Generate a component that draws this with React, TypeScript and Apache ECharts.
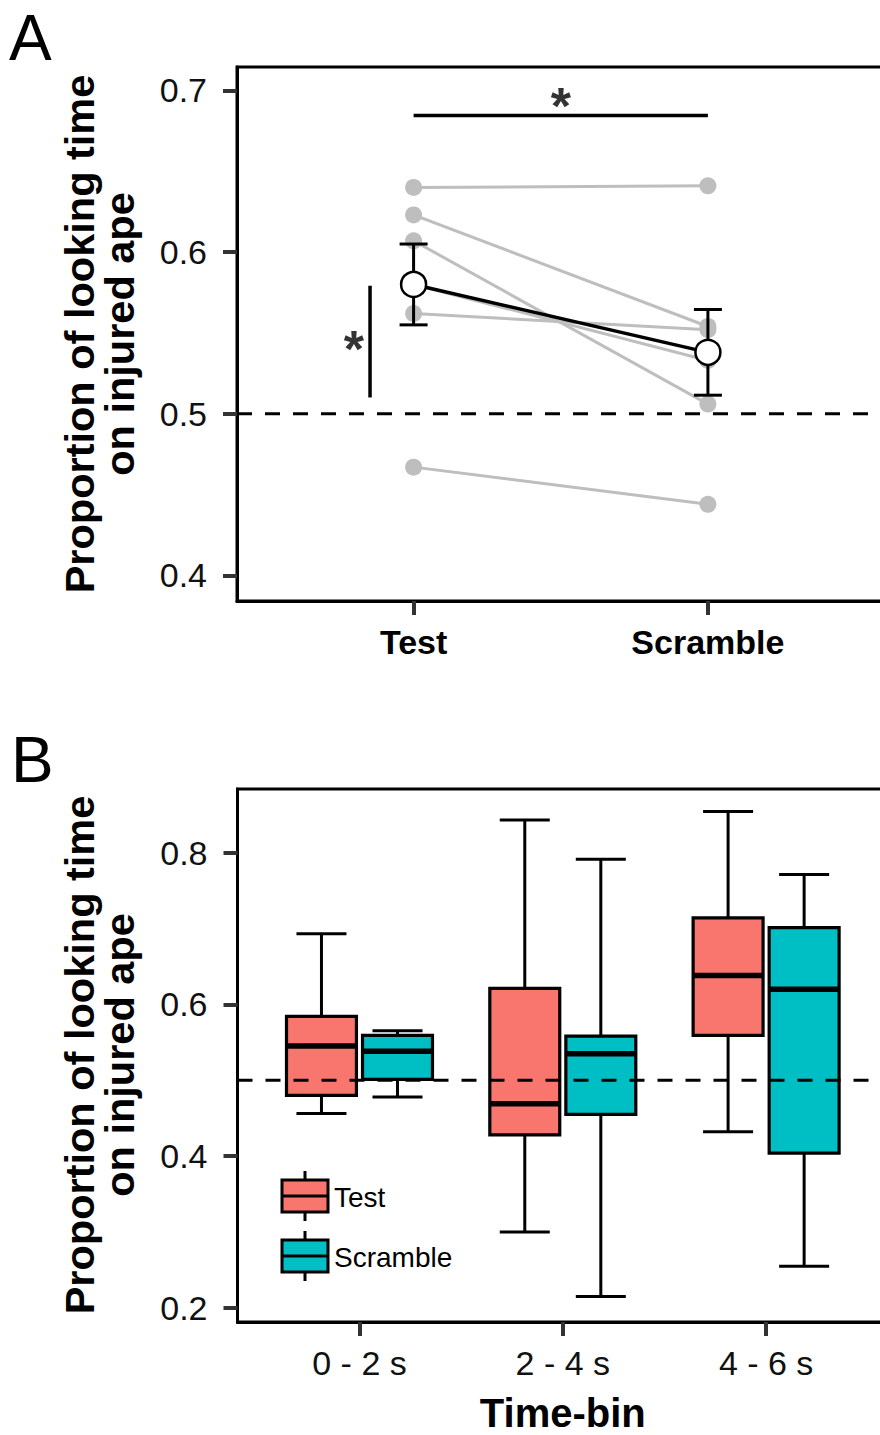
import React, { useEffect, useRef } from "react";
import * as echarts from "echarts";

const FONT = "'Liberation Sans', Arial, Helvetica, sans-serif";

// ---- Panel A: proportion of looking time per subject and condition ----
const CONDITIONS = ["Test", "Scramble"];
const SUBJECT_TEST = [0.64, 0.623, 0.607, 0.58, 0.562, 0.467];
const SUBJECT_SCRAMBLE = [0.641, 0.554, 0.506, 0.533, 0.552, 0.444];
const GROUP_MEAN = [0.58, 0.538];
const GROUP_SE = [0.025, 0.0265];
const Y_TICKS_A = [0.4, 0.5, 0.6, 0.7];
// significance annotations: [x1, y1, x2, y2] in data units, and star positions [x, y]
const SIG_LINES = [
  [1, 0.6845, 2, 0.6845],
  [0.852, 0.5792, 0.852, 0.5101],
];
const SIG_STARS = [
  [1.5, 0.6968],
  [0.797, 0.5463],
];

// ---- Panel B: distribution per time-bin, [low whisker, Q1, median, Q3, high whisker] ----
const TIME_BINS = ["0 - 2 s", "2 - 4 s", "4 - 6 s"];
const TEST_BOX = [
  [0.456, 0.48, 0.545, 0.584, 0.693],
  [0.3, 0.428, 0.469, 0.621, 0.843],
  [0.432, 0.559, 0.638, 0.714, 0.854],
];
const SCRAMBLE_BOX = [
  [0.478, 0.501, 0.538, 0.559, 0.565],
  [0.215, 0.455, 0.535, 0.558, 0.791],
  [0.255, 0.404, 0.62, 0.701, 0.771],
];
const Y_TICKS_B = [0.2, 0.4, 0.6, 0.8];
const CHANCE = 0.5;

const TEST_COLOR = "#F8766D";
const SCRAMBLE_COLOR = "#00BFC4";
const GREY = "#BEBEBE";

// widths in x-axis units for the dodged boxes
const DODGE = 0.187;
const BOX_WIDTH = 0.344;
const CAP_WIDTH = 0.246;

const seg = (x1: number, y1: number, x2: number, y2: number, w: number) => ({
  type: "line",
  shape: { x1, y1, x2, y2 },
  style: { stroke: "#000", lineWidth: w },
});

function boxSeries(name: string, stats: number[][], offset: number, color: string) {
  return {
    type: "custom",
    name,
    xAxisIndex: 1,
    yAxisIndex: 1,
    z: 3,
    data: stats.map((s, i) => [i + 1, ...s]),
    encode: { x: 0, y: [1, 2, 3, 4, 5] },
    renderItem: (_params: any, api: any) => {
      const x = api.value(0) + offset;
      const lo = api.coord([x, api.value(1)]);
      const q1 = api.coord([x, api.value(2)]);
      const md = api.coord([x, api.value(3)]);
      const q3 = api.coord([x, api.value(4)]);
      const hi = api.coord([x, api.value(5)]);
      const bw = api.size([BOX_WIDTH, 0])[0];
      const cw = api.size([CAP_WIDTH, 0])[0];
      const cx = q1[0];
      return {
        type: "group",
        children: [
          seg(cx, hi[1], cx, lo[1], 3),
          seg(cx - cw / 2, hi[1], cx + cw / 2, hi[1], 3),
          seg(cx - cw / 2, lo[1], cx + cw / 2, lo[1], 3),
          {
            type: "rect",
            shape: { x: cx - bw / 2, y: q3[1], width: bw, height: q1[1] - q3[1] },
            style: { fill: color, stroke: "#000", lineWidth: 3.2 },
          },
          seg(cx - bw / 2, md[1], cx + bw / 2, md[1], 5.5),
        ],
      };
    },
  };
}

function legendKey(y: number, color: string, label: string) {
  const x = 282;
  const w = 46;
  const h = 32;
  return {
    type: "group",
    children: [
      seg(x + w / 2, y - 9, x + w / 2, y + h + 9, 3),
      {
        type: "rect",
        shape: { x, y, width: w, height: h },
        style: { fill: color, stroke: "#000", lineWidth: 3 },
      },
      seg(x, y + h / 2, x + w, y + h / 2, 3),
      {
        type: "text",
        x: x + w + 6,
        y: y + h / 2 + 1,
        style: {
          text: label,
          font: `28px ${FONT}`,
          fill: "#000",
          align: "left",
          verticalAlign: "middle",
        },
      },
    ],
  };
}

const yTitle = (cy: number) => ({
  type: "text",
  x: 99,
  y: cy,
  rotation: Math.PI / 2,
  style: {
    text: "Proportion of looking time\non injured ape",
    font: `bold 41.5px ${FONT}`,
    lineHeight: 40,
    fill: "#000",
    align: "center",
    verticalAlign: "middle",
  },
});

const axisCommon = {
  axisLine: { show: true, lineStyle: { color: "#000", width: 3 } },
  axisTick: { show: true, length: 14, lineStyle: { color: "#333", width: 4 } },
  splitLine: { show: false },
};

const gridCommon = {
  show: true,
  borderColor: "#000",
  borderWidth: 3,
  backgroundColor: "transparent",
  containLabel: false,
  outerBoundsMode: "none",
};

export default function App() {
  const ref = useRef<HTMLDivElement>(null);

  useEffect(() => {
    if (!ref.current) return;
    const chart = echarts.init(ref.current, null, { renderer: "svg" });

    const subjectSeries = SUBJECT_TEST.map((t, i) => ({
      type: "line",
      xAxisIndex: 0,
      yAxisIndex: 0,
      z: 2,
      data: [
        [1, t],
        [2, SUBJECT_SCRAMBLE[i]],
      ],
      symbol: "circle",
      symbolSize: 17,
      itemStyle: { color: GREY },
      lineStyle: { color: GREY, width: 3 },
      silent: true,
    }));

    const option: any = {
      animation: false,
      backgroundColor: "#fff",
      textStyle: { fontFamily: FONT },
      grid: [
        { ...gridCommon, left: 237, top: 67, width: 647.5, height: 534 },
        { ...gridCommon, left: 237.5, top: 789, width: 650.6, height: 533 },
      ],
      xAxis: [
        {
          type: "value",
          gridIndex: 0,
          min: 0.4,
          max: 2.6,
          ...axisCommon,
          axisTick: { ...axisCommon.axisTick, customValues: [1, 2] },
          axisLabel: {
            customValues: [1, 2],
            formatter: (v: number) => CONDITIONS[Math.round(v) - 1],
            fontSize: 34,
            fontWeight: "bold",
            color: "#000",
            margin: 24,
            lineHeight: 34,
          },
        },
        {
          type: "value",
          gridIndex: 1,
          min: 0.4,
          max: 3.6,
          name: "Time-bin",
          nameLocation: "middle",
          nameGap: 71,
          nameTextStyle: { fontSize: 40, fontWeight: "bold", color: "#000", lineHeight: 40 },
          ...axisCommon,
          axisTick: { ...axisCommon.axisTick, customValues: [1, 2, 3] },
          axisLabel: {
            customValues: [1, 2, 3],
            formatter: (v: number) => TIME_BINS[Math.round(v) - 1],
            fontSize: 34,
            color: "#111",
            margin: 24,
            lineHeight: 34,
          },
        },
      ],
      yAxis: [
        {
          type: "value",
          gridIndex: 0,
          min: 0.3842,
          max: 0.7145,
          ...axisCommon,
          axisTick: { ...axisCommon.axisTick, customValues: Y_TICKS_A },
          axisLabel: {
            customValues: Y_TICKS_A,
            formatter: (v: number) => v.toFixed(1),
            fontSize: 34,
            color: "#111",
            margin: 30,
          },
        },
        {
          type: "value",
          gridIndex: 1,
          min: 0.1814,
          max: 0.8837,
          ...axisCommon,
          axisTick: { ...axisCommon.axisTick, customValues: Y_TICKS_B },
          axisLabel: {
            customValues: Y_TICKS_B,
            formatter: (v: number) => v.toFixed(1),
            fontSize: 34,
            color: "#111",
            margin: 30,
          },
        },
      ],
      series: [
        // chance level, panel A
        {
          type: "line",
          xAxisIndex: 0,
          yAxisIndex: 0,
          z: 1,
          data: [
            [0.4, CHANCE],
            [2.6, CHANCE],
          ],
          symbol: "none",
          lineStyle: { color: "#000", width: 3, type: [15, 13] },
          silent: true,
        },
        ...subjectSeries,
        // standard-error bars
        {
          type: "custom",
          xAxisIndex: 0,
          yAxisIndex: 0,
          z: 3,
          data: GROUP_MEAN.map((m, i) => [i + 1, m - GROUP_SE[i], m + GROUP_SE[i]]),
          encode: { x: 0, y: [1, 2] },
          renderItem: (_p: any, api: any) => {
            const x = api.value(0);
            const lo = api.coord([x, api.value(1)]);
            const hi = api.coord([x, api.value(2)]);
            const half = 14;
            return {
              type: "group",
              children: [
                seg(lo[0], lo[1], hi[0], hi[1], 3),
                seg(lo[0] - half, lo[1], lo[0] + half, lo[1], 3),
                seg(hi[0] - half, hi[1], hi[0] + half, hi[1], 3),
              ],
            };
          },
        },
        // group means
        {
          type: "line",
          xAxisIndex: 0,
          yAxisIndex: 0,
          z: 4,
          data: GROUP_MEAN.map((m, i) => [i + 1, m]),
          symbol: "circle",
          symbolSize: 25,
          itemStyle: { color: "#fff", borderColor: "#000", borderWidth: 2.5 },
          lineStyle: { color: "#000", width: 3.5 },
          silent: true,
        },
        // significance brackets
        ...SIG_LINES.map((l) => ({
          type: "line",
          xAxisIndex: 0,
          yAxisIndex: 0,
          z: 4,
          data: [
            [l[0], l[1]],
            [l[2], l[3]],
          ],
          symbol: "none",
          lineStyle: { color: "#000", width: 3.5 },
          silent: true,
        })),
        {
          type: "scatter",
          xAxisIndex: 0,
          yAxisIndex: 0,
          z: 4,
          data: SIG_STARS,
          symbolSize: 1,
          itemStyle: { color: "rgba(0,0,0,0)" },
          label: {
            show: true,
            position: "inside",
            formatter: "*",
            fontSize: 52,
            fontWeight: "bold",
            color: "#000",
            offset: [0, 10],
          },
          silent: true,
        },
        // panel B boxes
        boxSeries("Test", TEST_BOX, -DODGE, TEST_COLOR),
        boxSeries("Scramble", SCRAMBLE_BOX, DODGE, SCRAMBLE_COLOR),
        {
          type: "line",
          xAxisIndex: 1,
          yAxisIndex: 1,
          z: 5,
          data: [
            [0.4, CHANCE],
            [3.6, CHANCE],
          ],
          symbol: "none",
          lineStyle: { color: "#000", width: 3, type: [15, 13] },
          silent: true,
        },
      ],
      graphic: [
        {
          type: "text",
          x: 9,
          y: 38,
          style: { text: "A", font: `64px ${FONT}`, fill: "#000", verticalAlign: "middle" },
        },
        {
          type: "text",
          x: 11,
          y: 760,
          style: { text: "B", font: `64px ${FONT}`, fill: "#000", verticalAlign: "middle" },
        },
        yTitle(334),
        yTitle(1055),
        legendKey(1180, TEST_COLOR, "Test"),
        legendKey(1240, SCRAMBLE_COLOR, "Scramble"),
      ],
    };

    chart.setOption(option);
    return () => chart.dispose();
  }, []);

  // the plotting panels run slightly past the right edge of the page, as in a cropped figure
  return (
    <div
      style={{
        position: "absolute",
        left: 0,
        top: 0,
        width: 880,
        height: 1435,
        overflow: "hidden",
        background: "#fff",
      }}
    >
      <div ref={ref} style={{ width: 900, height: 1435 }} />
    </div>
  );
}
